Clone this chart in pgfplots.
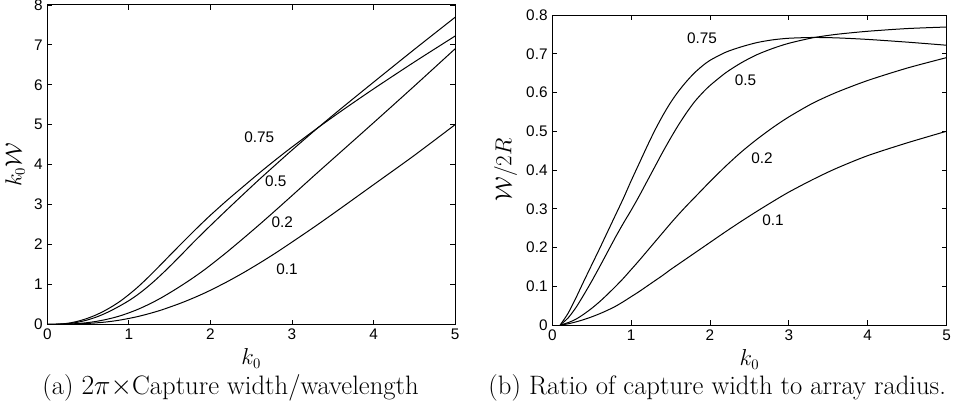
\documentclass[border=0pt]{standalone}
\usepackage{fontspec}
\setsansfont{Liberation Sans}
\usepackage{pgfplots}
\usepackage{pgfplotstable}
\pgfplotsset{compat=1.18}

% (a) k0*W against k0, one column per curve
\pgfplotstableread{
k    a75    a50    a20    a10
0    0      0      0      0
0.1  0      0      0      0
0.2  0.012  0.007  0.002  0.001
0.3  0.042  0.027  0.009  0.005
0.4  0.09   0.062  0.022  0.011
0.5  0.155  0.113  0.043  0.021
0.6  0.236  0.18   0.072  0.035
0.7  0.336  0.263  0.111  0.053
0.8  0.453  0.362  0.158  0.077
0.9  0.587  0.472  0.216  0.108
1.0  0.744  0.592  0.286  0.146
1.1  0.915  0.730  0.365  0.189
1.2  1.104  0.888  0.456  0.24
1.3  1.305  1.061  0.556  0.296
1.4  1.512  1.249  0.666  0.358
1.5  1.722  1.446  0.786  0.429
1.6  1.930  1.651  0.912  0.502
1.7  2.135  1.860  1.044  0.581
1.8  2.34   2.07   1.181  0.666
1.9  2.538  2.272  1.326  0.756
2.0  2.732  2.472  1.48   0.852
2.2  3.098  2.864  1.804  1.06
2.4  3.446  3.25   2.146  1.286
2.6  3.791  3.63   2.496  1.529
2.8  4.122  3.998  2.856  1.786
3.0  4.44   4.362  3.222  2.058
3.3  4.897  4.891  3.775  2.475
3.6  5.335  5.4    4.32   2.909
4.0  5.896  6.064  5.048  3.496
4.5  6.57   6.885  5.967  4.23
5.0  7.22   7.69   6.9    5.0
}\leftdata

% (b) W/2R against k0
\pgfplotstableread{
k    a75    a50    a20    a10
0.1  0      0      0      0
0.2  0.03   0.018  0.006  0.003
0.3  0.07   0.045  0.015  0.008
0.4  0.113  0.078  0.028  0.014
0.5  0.155  0.113  0.043  0.021
0.6  0.197  0.15   0.06   0.029
0.7  0.24   0.188  0.079  0.038
0.8  0.283  0.226  0.099  0.048
0.9  0.326  0.262  0.12   0.06
1.0  0.372  0.296  0.143  0.073
1.1  0.416  0.332  0.166  0.086
1.2  0.46   0.37   0.19   0.1
1.3  0.502  0.408  0.214  0.114
1.4  0.54   0.446  0.238  0.128
1.5  0.574  0.482  0.262  0.143
1.6  0.603  0.516  0.285  0.157
1.7  0.628  0.547  0.307  0.171
1.8  0.65   0.575  0.328  0.185
1.9  0.668  0.598  0.349  0.199
2.0  0.683  0.618  0.37   0.213
2.2  0.704  0.651  0.41   0.241
2.4  0.718  0.677  0.447  0.268
2.6  0.729  0.698  0.48   0.294
2.8  0.736  0.714  0.51   0.319
3.0  0.740  0.727  0.537  0.343
3.3  0.742  0.741  0.572  0.375
3.6  0.741  0.75   0.6    0.404
4.0  0.737  0.758  0.631  0.437
4.5  0.730  0.765  0.663  0.47
5.0  0.722  0.769  0.69   0.5
}\rightdata

\tikzset{curvelabel/.style={font=\fontsize{11.5}{13}\selectfont\sffamily}}

\pgfplotsset{
  panel/.style={
    scale only axis,
    xmin=0, xmax=5, xtick={0,1,2,3,4,5},
    xtick pos=both, ytick pos=both,
    xticklabel pos=bottom, yticklabel pos=left,
    tick align=inside,
    major tick length=3.5pt,
    axis line style={line width=0.7pt},
    tick style={line width=0.6pt, black},
    ticklabel style={font=\fontsize{11.5}{13}\selectfont\sffamily},
    /pgf/number format/assume math mode=true,
    label style={font=\fontsize{16}{18}\selectfont},
    every axis plot post/.append style={black, line width=0.75pt, mark=none, smooth, tension=0.45},
  },
}

\begin{document}
\begin{tikzpicture}
\useasboundingbox (0,0) rectangle (714.75pt,307.5pt);

\begin{axis}[panel,
    at={(35.5pt,64.3pt)}, anchor=south west,
    width=305.8pt, height=239.5pt,
    ymin=0, ymax=8, ytick={0,1,2,3,4,5,6,7,8},
    xlabel={$k_0$}, ylabel={$k_0\mathcal{W}$},
]
\addplot table[x=k, y=a75] {\leftdata};
\addplot table[x=k, y=a50] {\leftdata};
\addplot table[x=k, y=a20] {\leftdata};
\addplot table[x=k, y=a10] {\leftdata};
\node[curvelabel] at (axis cs:2.6,4.68) {0.75};
\node[curvelabel] at (axis cs:2.8,3.59) {0.5};
\node[curvelabel] at (axis cs:2.88,2.55) {0.2};
\node[curvelabel] at (axis cs:2.94,1.38) {0.1};
\end{axis}

\begin{axis}[panel,
    at={(414.2pt,63.75pt)}, anchor=south west,
    width=295.7pt, height=232.5pt,
    ymin=0, ymax=0.8, ytick={0,0.1,0.2,0.3,0.4,0.5,0.6,0.7,0.8},
    xlabel={$k_0$}, ylabel={$\mathcal{W}/2R$},
]
\addplot table[x=k, y=a75] {\rightdata};
\addplot table[x=k, y=a50] {\rightdata};
\addplot table[x=k, y=a20] {\rightdata};
\addplot table[x=k, y=a10] {\rightdata};
\node[curvelabel] at (axis cs:1.9,0.739) {0.75};
\node[curvelabel] at (axis cs:2.45,0.631) {0.5};
\node[curvelabel] at (axis cs:2.66,0.431) {0.2};
\node[curvelabel] at (axis cs:2.8,0.271) {0.1};
\end{axis}

\node[font=\fontsize{20}{23}\selectfont, anchor=base] at (172.9pt,11.25pt)
  {(a) $2\pi\times$Capture width/wavelength};
\node[font=\fontsize{20}{23}\selectfont, anchor=base] at (537.9pt,11.25pt)
  {(b) Ratio of capture width to array radius.};
\end{tikzpicture}
\end{document}
